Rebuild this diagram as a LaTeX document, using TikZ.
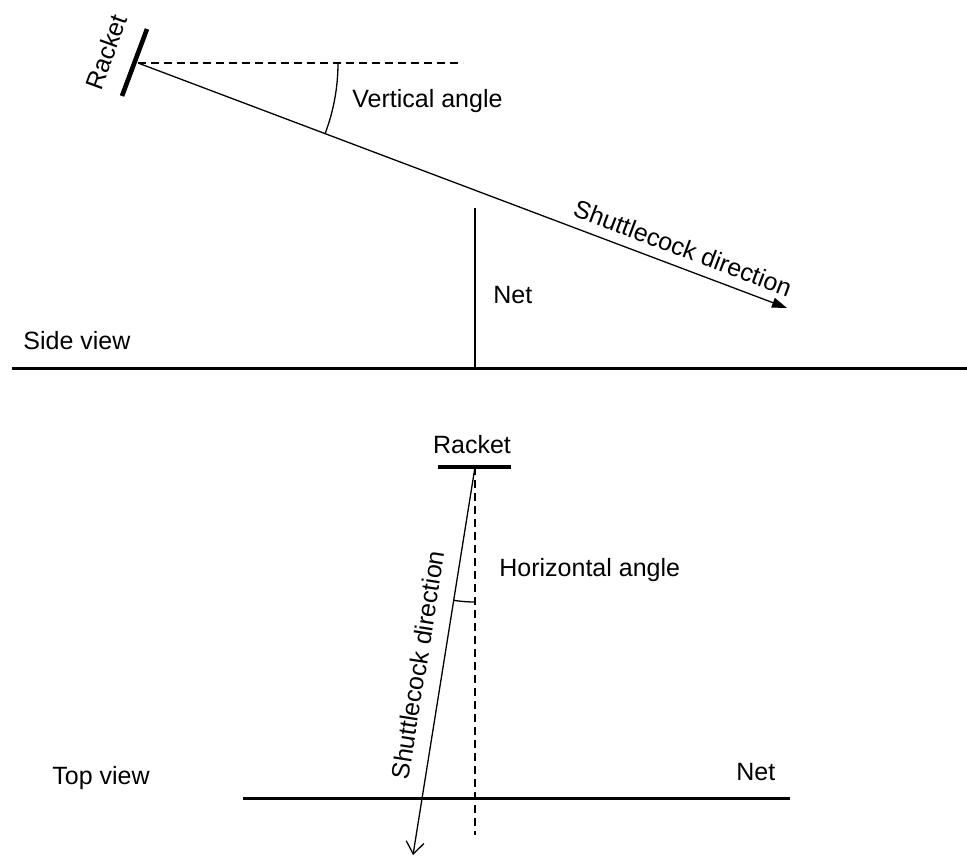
\documentclass[tikz,border=0pt]{standalone}
\usepackage{fontspec}
\setmainfont{Liberation Sans}
\usetikzlibrary{arrows.meta, angles}

\begin{document}
\begin{tikzpicture}[x=0.5pt, y=-0.5pt,
    lbl/.style={font=\fontsize{12.5}{15}\selectfont, inner sep=0pt},
    ray/.style={line width=0.65pt},
    guide/.style={line width=0.65pt, dash pattern=on 4pt off 2.5pt},
    ground/.style={line width=1.5pt},
    netpost/.style={line width=1.2pt},
    bat/.style={line width=2.3pt}
  ]
    \useasboundingbox (0,0) rectangle (967,856);

    % side view
    \coordinate (sHit)  at (138,63);
    \coordinate (sTip)  at (787,308);
    \coordinate (sDash) at (463,63);
    \draw[bat] (147,29) -- (122,96);
    \draw[guide] (sHit) -- (sDash);
    \draw[ray, -{Triangle[length=7.5pt, width=5pt]}] (sHit) -- (sTip);
    \pic[draw, ray, angle radius=100pt] {angle = sTip--sHit--sDash};
    \draw[netpost] (475,208) -- (475,368);
    \draw[ground] (12,368) -- (967,368);

    \node[lbl, rotate=70] (sRacket) at (106,52) {Racket};
    \node[lbl, anchor=base west] (vAngle) at (352,107) {Vertical angle};
    \node[lbl, rotate=-20.7] (sDir) at (683,248) {Shuttlecock direction};
    \node[lbl, anchor=base west] (sNet) at (493,303) {Net};
    \node[lbl, anchor=base west] (sView) at (23,349) {Side view};

    % top view
    \coordinate (tHit)  at (475,467);
    \coordinate (tTip)  at (413,855);
    \coordinate (tDash) at (475,835);
    \draw[bat] (438,467) -- (511,467);
    \draw[guide] (tHit) -- (tDash);
    \draw[ray, -{Straight Barb[length=6pt, width=9pt]}] (tHit) -- (tTip);
    \pic[draw, ray, angle radius=67.5pt] {angle = tTip--tHit--tDash};
    \draw[ground] (243,798) -- (790,798);

    \node[lbl, anchor=base] (tRacket) at (472,453) {Racket};
    \node[lbl, anchor=base west] (hAngle) at (499,576) {Horizontal angle};
    \node[lbl, rotate=81] (tDir) at (418,665) {Shuttlecock direction};
    \node[lbl, anchor=base west] (tNet) at (736,780) {Net};
    \node[lbl, anchor=base west] (tView) at (52,784) {Top view};
\end{tikzpicture}
\end{document}
